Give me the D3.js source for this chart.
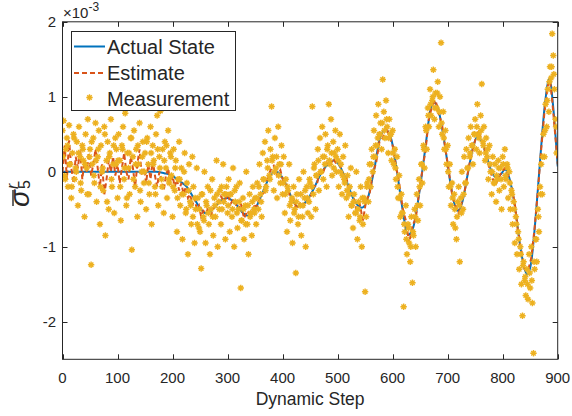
<!DOCTYPE html>
<html><head><meta charset="utf-8">
<script src="https://cdn.jsdelivr.net/npm/d3@7/dist/d3.min.js"></script>
<style>body{margin:0;background:#fff}svg{display:block}text{font-family:"Liberation Sans",Arial,Helvetica,sans-serif;fill:#262626}</style>
</head><body>
<svg id="c" width="572" height="416"></svg>
<script>
// values in units of 1e-3
const xTicks = [0,100,200,300,400,500,600,700,800,900];
const yTicks = [-2,-1,0,1,2];
const legendLabels = ["Actual State","Estimate","Measurement"];

const actualX = [0,100,170,185,196,214,226,237,250,259,270,285,299,315,328,338,350,365,378,386,395,408,420,428,440,455,470,482,492,502,515,530,544,555,567,577,587,597,607,617,628,637,648,660,668,675,684,695,705,712,718,726,736,746,754,762,772,780,787,797,804,812,822,832,840,845,852,860,868,876,885,892,900];
const actualY = [0,0,0,-0.02,-0.04,-0.13,-0.2,-0.33,-0.48,-0.55,-0.52,-0.4,-0.35,-0.43,-0.55,-0.59,-0.5,-0.25,-0.05,0.01,-0.03,-0.2,-0.4,-0.46,-0.42,-0.25,-0.02,0.1,0.15,0.1,-0.1,-0.38,-0.48,-0.35,0.05,0.45,0.56,0.45,0.05,-0.45,-0.84,-0.75,-0.3,0.35,0.8,0.93,0.8,0.35,-0.15,-0.42,-0.52,-0.42,-0.05,0.32,0.47,0.4,0.18,0.0,-0.07,-0.03,0.03,-0.08,-0.45,-1.0,-1.3,-1.37,-1.2,-0.6,0.15,0.85,1.24,0.85,0.07];

const estX = [0,4,8,12,16,20,24,28,32,36,40,44,48,52,56,60,64,68,72,76,80,84,88,92,96,100,104,108,112,116,120,124,128,132,136,140,144,148,152,156,160,164,168,172,176,180,184,188,192,196,200,204,208,212,216,220,224,228,232,236,240,244,248,252,256,260,
264,270,276,282,288,294,300,306,312,318,324,330,336,342,348,354,360,366,372,378,384,390,396,402,408,414,420,426,432,438,444,450,456,462,468,474,480,486,492,498,504,510,516,522,528,534,540,546,552,558,564,570,576,582,588,594,600,606,612,618,624,630,636,642,648,654,660,666,672,678,684,690,696,702,708,714,720,726,732,738,744,750,756,762,768,774,780,786,792,798,804,810,816,822,828,834,840,846,852,858,864,870,876,882,886,890,896,900];
const estY = [0.0,0.35,-0.1,0.42,0.05,-0.15,0.2,0.05,0.3,-0.1,0.15,0.0,0.25,-0.05,0.1,0.3,0.05,-0.2,0.1,-0.3,-0.1,0.15,0.0,0.2,-0.05,0.1,-0.15,0.05,0.25,0.0,-0.1,0.2,0.05,-0.2,0.1,0.3,-0.05,0.05,-0.15,0.1,-0.1,0.15,-0.05,-0.2,0.0,-0.1,-0.25,-0.05,0.05,-0.15,-0.05,-0.2,-0.1,-0.25,-0.15,-0.3,-0.2,-0.35,-0.3,-0.45,-0.35,-0.5,-0.45,-0.6,-0.52,-0.55,
-0.5,-0.58,-0.45,-0.44,-0.33,-0.4,-0.3,-0.42,-0.36,-0.5,-0.42,-0.62,-0.52,-0.6,-0.46,-0.45,-0.3,-0.28,-0.1,0.02,0.08,-0.05,0.02,-0.15,-0.18,-0.35,-0.36,-0.5,-0.42,-0.46,-0.35,-0.36,-0.2,-0.18,0.02,0.0,0.12,0.08,0.18,0.1,0.1,-0.05,-0.08,-0.28,-0.3,-0.5,-0.42,-0.65,-0.38,-0.3,-0.02,0.12,0.4,0.45,0.6,0.48,0.35,0.08,-0.15,-0.48,-0.65,-0.95,-0.72,-0.62,-0.28,0.02,0.3,0.72,0.88,0.95,0.78,0.62,0.3,0.02,-0.3,-0.45,-0.55,-0.4,-0.22,0.05,0.25,0.42,0.55,0.42,0.28,0.1,-0.05,-0.18,-0.1,0.0,0.05,-0.05,-0.2,-0.42,-0.8,-1.05,-1.3,-1.32,-1.15,-0.75,-0.25,0.3,0.8,1.15,1.22,0.95,0.45,0.1];

// measurements, set A: every 2 steps starting at step 0
const measStartA = 0, measStepA = 2;
const measYA = [
0.55,0.68,-0.05,0.3,0.45,-0.2,0.62,0.1,-0.35,0.25,0.5,-0.1,0.05,0.4,-0.45,0.6,0.2,-0.25,0.35,0.15,-0.6,0.5,0.05,0.7,-0.3,
0.3,-1.24,0.1,0.45,-0.15,0.65,-0.4,0.2,0.55,-0.7,0.35,0.0,-0.25,0.6,-0.85,0.15,0.4,-0.5,0.25,0.7,-0.2,0.1,-0.55,0.45,0.3,
-0.35,0.5,0.15,-0.65,0.35,0.6,-0.1,0.78,-0.45,0.25,0.05,-0.3,0.45,-1.04,0.2,0.55,-0.2,0.3,-0.6,0.1,0.65,-0.4,0.0,0.4,-0.15,
0.25,-0.5,0.45,0.1,-0.3,0.6,-0.7,0.35,0.15,-0.2,0.5,0.75,-0.45,0.2,0.81,-0.1,0.3,-0.55,0.4,0.05,-0.35,0.55,-0.15,0.25,-0.05,
-0.6,0.3,-0.25,0.15,-0.8,-0.1,0.4,-0.45,0.05,-0.9,-0.3,0.25,-0.55,-0.15,-1.1,0.1,-0.4,-0.7,0.2,-0.2,-0.95,-0.5,0.05,-0.35,-0.75,
-0.8,-1.29,-0.3,-0.6,0.0,-0.95,-0.45,-0.2,-0.7,-1.1,-0.5,-0.1,-0.85,-0.35,-0.6,0.15,-1.0,-0.4,-0.25,-0.7,-0.5,0.1,-0.3,-0.9,-0.2,
-0.55,-0.1,-0.8,-0.3,-0.6,0.05,-1.0,-0.4,-0.2,-0.75,-0.5,-0.15,-1.55,-0.65,-0.35,-0.9,-0.45,0.0,-0.7,-1.1,-0.3,-0.55,-0.85,-0.2,-0.5,
-0.35,-0.7,-0.15,-0.5,0.1,-0.3,-0.6,0.25,-0.1,0.4,-0.2,0.15,0.55,-0.05,0.3,0.87,0.2,-0.25,0.45,0.05,-0.35,0.6,0.1,-0.15,0.35,
-0.3,0.2,-0.55,-0.1,-0.8,-0.25,0.1,-0.65,-0.4,-0.95,-0.2,-0.5,-1.35,-0.3,-0.7,-0.1,-0.45,-0.85,-0.6,0.0,-0.35,-1.0,-0.2,-0.55,-0.4,
-0.15,-0.6,0.87,-0.3,0.1,-0.5,-0.05,0.3,-0.25,0.45,0.0,0.6,-0.1,0.2,0.5,-0.2,0.35,0.9,0.1,0.7,-0.05,0.4,0.25,0.55,0.0,
0.3,-0.2,0.5,0.1,-0.3,0.2,-0.1,0.35,-0.35,-0.05,-0.6,-0.2,0.05,-0.45,-0.75,-0.3,-0.55,0.0,-0.9,-0.4,-0.65,-0.2,-1.0,-0.7,-0.35,
-1.6,-0.6,-0.15,-0.4,0.1,-0.2,0.3,0.0,0.55,0.2,0.75,0.35,0.9,0.5,0.65,0.3,1.23,0.8,0.45,0.95,0.6,0.25,0.7,0.5,0.15,
0.55,0.1,0.3,-0.1,0.2,-0.35,-0.05,-0.6,-0.3,-0.55,-1.8,-0.8,-0.45,-1.1,-0.7,-0.95,-1.2,-0.6,-1.48,-0.85,-0.5,-1.0,-0.3,-0.65,-0.1,
-0.45,0.1,-0.15,0.35,0.05,0.6,0.3,0.85,0.6,1.1,0.75,0.95,1.36,0.7,1.05,0.85,1.2,0.6,1.0,1.72,0.5,0.8,0.3,0.55,0.1,
0.35,-0.2,0.1,-0.45,-0.15,-0.7,-0.3,-0.75,-0.9,-0.4,-0.2,-1.2,-0.35,0.0,-0.5,0.2,-0.15,0.3,0.05,0.45,0.2,0.6,0.35,0.1,0.5,
0.7,0.3,0.9,0.5,0.25,0.75,1.17,0.4,0.6,0.15,0.45,0.2,-0.1,0.35,0.0,-0.3,0.2,-0.15,0.1,-0.4,-0.1,0.15,-0.25,0.05,-0.5,
0.2,-0.2,0.3,-0.1,0.1,-0.35,0.0,-0.5,-0.25,-0.7,-0.4,-0.95,-0.6,-1.1,-0.8,-1.3,-1.0,-1.5,-1.92,-1.2,-1.45,-1.65,-1.3,-1.7,-1.1,
-1.55,-1.0,-1.75,-2.42,-1.3,-0.9,-1.2,-0.5,-0.8,-0.2,0.1,-0.3,0.5,0.2,0.9,0.6,1.1,0.8,1.4,1.25,1.84,1.55,1.1,0.7,0.25
];
// measurements, set B: every 4 steps starting at step 1
const measStartB = 1, measStepB = 4;
const measYB = [
0.2,-0.1,0.35,0.1,-0.2,0.45,0.0,0.25,-0.15,0.3,0.1,-0.3,0.2,0.4,-0.05,0.15,0.3,-0.2,0.05,0.5,-0.4,0.2,-0.1,0.35,0.1,
0.15,-0.2,0.3,0.05,-0.35,0.25,0.45,-0.1,0.1,0.35,-0.25,0.2,0.0,0.4,-0.15,0.25,0.1,-0.3,0.3,0.05,-0.2,0.15,0.35,-0.1,0.2,
-0.2,0.05,-0.35,-0.1,-0.3,0.0,-0.5,-0.25,-0.45,-0.6,-0.35,-0.7,-0.5,-0.3,-0.65,-0.4,-0.55,-0.25,-0.6,-0.45,-0.3,-0.5,-0.2,-0.4,-0.3,
-0.45,-0.3,-0.5,-0.25,-0.55,-0.4,-0.65,-0.5,-0.7,-0.45,-0.6,-0.4,-0.55,-0.35,-0.2,-0.4,-0.1,-0.25,0.05,-0.1,0.15,0.0,0.2,-0.05,0.1,
-0.15,-0.3,-0.2,-0.45,-0.35,-0.55,-0.4,-0.6,-0.3,-0.45,-0.25,-0.35,-0.1,-0.2,0.05,-0.05,0.15,0.0,0.2,0.1,0.3,0.15,0.25,0.05,0.2,
0.15,0.0,-0.05,-0.15,-0.25,-0.3,-0.45,-0.4,-0.55,-0.5,-0.6,-0.35,-0.4,-0.2,-0.1,0.1,0.2,0.35,0.45,0.5,0.65,0.55,0.7,0.45,0.5,
0.25,0.05,-0.2,-0.35,-0.55,-0.7,-0.9,-0.75,-1.0,-0.8,-0.6,-0.45,-0.2,0.1,0.3,0.55,0.75,0.9,1.0,0.85,1.05,0.8,0.65,0.45,0.3,
0.0,-0.2,-0.35,-0.5,-0.6,-0.45,-0.55,-0.3,-0.15,0.05,0.25,0.35,0.5,0.6,0.45,0.55,0.35,0.25,0.3,0.1,0.0,-0.15,-0.05,0.05,-0.1,
0.1,-0.05,0.05,-0.15,-0.3,-0.5,-0.7,-0.9,-1.1,-1.25,-1.4,-1.5,-1.35,-1.45,-1.2,-0.9,-0.6,-0.3,0.2,0.55,0.95,1.2,1.4,1.3,0.6
];

const colors = {actual:"#0072BD", est:"#D95319", meas:"#EDB120", axis:"#262626"};

const svg = d3.select("#c");
const x = d3.scaleLinear().domain([0,900]).range([62.5,557.7]);
const y = d3.scaleLinear().domain([-2.5,2]).range([359.3,21.8]);

svg.append("defs").append("clipPath").attr("id","pc").append("rect")
  .attr("x",62.5).attr("y",21.8).attr("width",557.7-62.5).attr("height",359.3-21.8);
const plot = svg.append("g").attr("clip-path","url(#pc)");

const actual = actualX.map((d,i)=>[d,actualY[i]]);
const est = estX.map((d,i)=>[d,estY[i]]);
const meas = measYA.map((v,i)=>[measStartA+i*measStepA, v])
  .concat(measYB.map((v,i)=>[measStartB+i*measStepB, v]));

plot.append("path").datum(actual)
  .attr("d", d3.line().x(d=>x(d[0])).y(d=>y(d[1])).curve(d3.curveMonotoneX))
  .attr("fill","none").attr("stroke",colors.actual).attr("stroke-width",2);
plot.append("path").datum(est)
  .attr("d", d3.line().x(d=>x(d[0])).y(d=>y(d[1])))
  .attr("fill","none").attr("stroke",colors.est).attr("stroke-width",2).attr("stroke-dasharray","5,3");

const r = 3.2;
const starPath = `M${-r},0L${r},0M0,${-r}L0,${r}M${-r*0.7},${-r*0.7}L${r*0.7},${r*0.7}M${-r*0.7},${r*0.7}L${r*0.7},${-r*0.7}`;
plot.append("g").selectAll("path").data(meas).join("path")
  .attr("transform",d=>`translate(${x(d[0])},${y(d[1])})`)
  .attr("d",starPath).attr("fill","none").attr("stroke",colors.meas).attr("stroke-width",1.4);

// axes
const tl = 5;
const ax = svg.append("g").attr("stroke",colors.axis).attr("stroke-width",1).attr("fill","none");
ax.append("rect").attr("x",62.5).attr("y",21.8).attr("width",557.7-62.5).attr("height",359.3-21.8);
xTicks.forEach(t=>{
  const px = Math.round(x(t))+0.5;
  ax.append("line").attr("x1",px).attr("x2",px).attr("y1",359.3).attr("y2",359.3-tl);
  ax.append("line").attr("x1",px).attr("x2",px).attr("y1",21.8).attr("y2",21.8+tl);
});
yTicks.forEach(t=>{
  const py = Math.round(y(t))+0.5;
  ax.append("line").attr("x1",62.5).attr("x2",62.5+tl).attr("y1",py).attr("y2",py);
  ax.append("line").attr("x1",557.7).attr("x2",557.7-tl).attr("y1",py).attr("y2",py);
});
svg.append("g").selectAll("text").data(xTicks).join("text")
  .attr("x",d=>x(d)).attr("y",383).attr("text-anchor","middle").attr("font-size",15).text(d=>d);
svg.append("g").selectAll("text").data(yTicks).join("text")
  .attr("x",56).attr("y",d=>y(d)+5).attr("text-anchor","end").attr("font-size",15).text(d=>d);
svg.append("text").attr("x",x(450)).attr("y",404.5).attr("text-anchor","middle").attr("font-size",17.5).text("Dynamic Step");

// exponent
const ex = svg.append("text").attr("x",63).attr("y",17.5).attr("font-size",15);
ex.append("tspan").text("×10");
ex.append("tspan").attr("font-size",12).attr("dy",-6.5).text("-3");

// y label
const serif = "'Liberation Serif','DejaVu Serif',serif";
const yl = svg.append("g").attr("transform","translate(29,207) rotate(-90)");
yl.append("text").attr("x",0).attr("y",0).attr("font-family",serif).attr("font-style","italic").attr("font-size",28).text("σ");
yl.append("line").attr("x1",1).attr("x2",17).attr("y1",-16).attr("y2",-16).attr("stroke",colors.axis).attr("stroke-width",1.4);
yl.append("text").attr("x",18).attr("y",-11).attr("font-family",serif).attr("font-style","italic").attr("font-size",16).text("r");
yl.append("text").attr("x",18).attr("y",1).attr("font-family",serif).attr("font-size",16).text("5");

// legend
const lg = svg.append("g");
lg.append("rect").attr("x",71.5).attr("y",31.5).attr("width",164).attr("height",79).attr("fill","#fff").attr("stroke",colors.axis).attr("stroke-width",1);
const rows = [46.5,73,99];
lg.append("line").attr("x1",74).attr("x2",105).attr("y1",rows[0]).attr("y2",rows[0]).attr("stroke",colors.actual).attr("stroke-width",2);
lg.append("line").attr("x1",74).attr("x2",105).attr("y1",rows[1]).attr("y2",rows[1]).attr("stroke",colors.est).attr("stroke-width",2).attr("stroke-dasharray","5,3");
lg.append("path").attr("transform",`translate(89.5,${rows[2]-1.5})`).attr("d",starPath).attr("fill","none").attr("stroke",colors.meas).attr("stroke-width",1.4);
lg.selectAll("text.l").data(legendLabels).join("text").attr("class","l")
  .attr("x",107).attr("y",(d,i)=>rows[i]+7).attr("font-size",20).text(d=>d);
</script>
</body></html>
